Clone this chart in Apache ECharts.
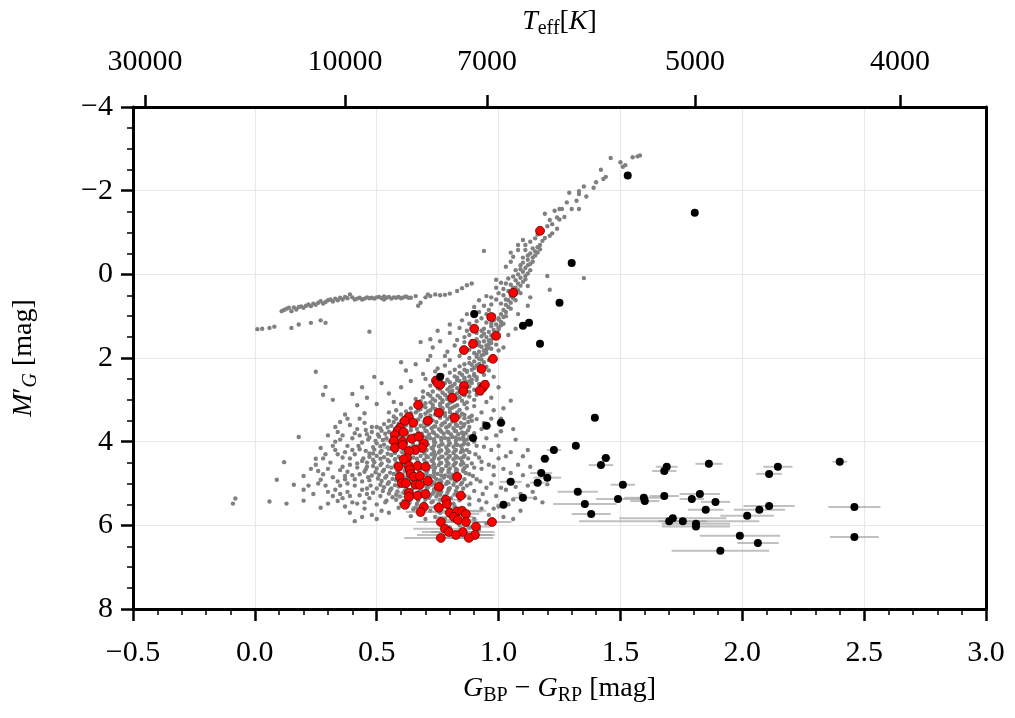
<!DOCTYPE html>
<html>
<head>
<meta charset="utf-8">
<script src="https://cdn.jsdelivr.net/npm/echarts/dist/echarts.min.js"></script>
<style>
  html, body { margin: 0; padding: 0; background: #fff; }
  #cmd-fig { width: 1015px; height: 718px; }
</style>
</head>
<body>
<div id="cmd-fig"></div>
<script>
// Colour-magnitude diagram
// ========================

// top axis: Teff ticks placed at their BP-RP colour
const teff_pos = [-0.451, 0.37, 0.953, 1.806, 2.647]
const teff_labels = ['30000', '10000', '7000', '5000', '4000']

// field stars (grey)
const hb_pts = [
  [0.01,1.31],[0.03,1.30],[0.06,1.28],[0.08,1.25],[0.11,0.88],[0.12,0.85],[0.13,0.82],[0.14,0.80],[0.15,0.88],[0.16,0.79],
  [0.17,0.84],[0.18,0.78],[0.19,0.77],[0.20,0.80],[0.21,0.75],[0.22,0.72],[0.23,0.76],[0.24,0.70],[0.25,0.73],[0.26,0.68],
  [0.27,0.64],[0.28,0.70],[0.29,0.66],[0.30,0.62],[0.31,0.60],[0.32,0.65],[0.33,0.58],[0.34,0.62],[0.35,0.56],[0.36,0.60],
  [0.37,0.54],[0.38,0.57],[0.39,0.48],[0.40,0.55],[0.41,0.60],[0.42,0.58],[0.43,0.56],[0.44,0.60],[0.45,0.58],[0.46,0.55],
  [0.47,0.57],[0.48,0.56],[0.49,0.58],[0.50,0.55],[0.51,0.54],[0.52,0.57],[0.53,0.53],[0.54,0.56],[0.55,0.54],[0.56,0.58],
  [0.57,0.55],[0.58,0.56],[0.59,0.54],[0.60,0.57],[0.61,0.55],[0.62,0.53],[0.63,0.56],[0.64,0.56],[0.66,0.52],[0.67,0.75],
  [0.68,0.68],[0.70,0.55],[0.71,0.48],[0.72,0.52],[0.74,0.48],[0.76,0.50],[0.78,0.49],[0.80,0.46],[0.83,0.40],[0.85,0.33],
  [0.87,0.26],[0.89,0.22],[0.23,1.16],[0.29,1.16],[0.15,1.28],[0.47,1.37],[0.72,1.55],[0.18,1.20],[0.27,1.10],[0.53,0.60],
]
const rgb_pts = [
  [1.58,-2.84],[1.57,-2.82],[1.55,-2.80],[1.46,-2.78],[1.51,-2.57],[1.52,-2.61],[1.44,-2.33],[1.43,-2.28],[1.40,-2.20],[1.39,-2.07],
  [1.36,-1.86],[1.33,-1.92],[1.33,-1.99],[1.32,-1.76],[1.33,-1.56],[1.30,-1.56],[1.26,-1.56],[1.25,-1.56],[1.27,-1.37],[1.25,-1.31],
  [1.24,-1.36],[1.22,-1.20],[1.24,-1.09],[1.22,-0.98],[1.21,-0.92],[1.19,-0.87],[1.18,-0.80],[1.17,-0.70],[1.16,-0.65],[1.14,-0.62],
  [1.17,-0.60],[1.15,-0.55],[1.13,-0.50],[1.15,-0.45],[1.10,-0.82],[1.08,-0.70],[1.06,-0.42],[1.05,-0.30],[1.03,-0.18],[1.10,-0.40],
  [1.12,-0.35],[1.14,-0.30],[1.12,-0.22],[1.11,-0.15],[1.13,-0.10],[1.10,-0.06],[1.12,-0.02],[1.11,0.04],[1.09,0.08],[1.11,0.12],
  [1.10,0.18],[1.08,0.22],[1.09,0.27],[1.07,0.32],[1.08,0.38],[1.06,0.42],[1.07,0.47],[1.05,0.52],[1.06,0.57],[1.04,0.62],
  [1.05,0.68],[1.03,0.73],[1.04,0.78],[1.02,0.85],[1.03,0.90],[1.01,0.95],[1.02,1.02],[1.00,1.08],[1.01,1.14],[0.99,1.20],
  [1.00,1.27],[0.98,1.33],[0.99,1.40],[0.97,1.46],[0.98,1.52],[0.96,1.58],[0.97,1.64],[0.95,1.70],[0.96,1.76],[0.94,1.82],
  [0.95,1.88],[0.93,1.94],[0.99,0.13],[1.03,0.22],[0.99,0.32],[1.06,0.32],[0.95,0.52],[0.97,0.55],[0.99,0.60],[0.94,0.75],
  [0.96,0.85],[0.92,0.90],[0.98,0.98],[0.93,1.05],[0.95,1.15],[0.90,1.25],[0.93,1.35],[0.88,1.45],[0.91,1.55],[0.86,1.62],
  [0.89,1.72],[0.83,1.57],[0.85,1.85],[0.91,1.92],[1.20,0.04],[1.21,0.37],[1.35,0.09],[0.94,-0.56],[1.08,0.95],[1.07,1.30],
  [1.04,1.45],[1.12,0.75],[1.02,1.75],[1.13,0.55],[0.99,1.68],[1.00,1.82],[0.87,0.95],[0.90,1.00],[0.85,1.10],[0.88,1.18],
  [0.91,1.12],[0.84,1.28],[0.87,1.35],[0.80,1.40],[0.86,1.50],[0.82,1.70],[0.79,1.85],[0.84,1.95],[0.88,1.80],[0.76,1.60],
  [0.73,1.75],[0.92,1.62],[0.93,1.48],[0.94,1.30],[0.96,1.05],[0.97,0.72],[0.92,0.62],[0.90,0.78],[1.00,0.45],[1.02,0.35],
  [1.01,0.20],[1.04,0.10],[1.06,0.05],[1.07,-0.10],[1.09,-0.22],[1.05,-0.52],[1.08,-0.58],[1.11,-0.70],[1.13,-0.78],[1.15,-0.86],
  [1.16,-0.95],[1.18,-1.05],[1.20,-1.15],[1.21,-1.30],[1.19,-1.45],[1.23,-1.52],[1.28,-1.72],[1.29,-1.95],[1.35,-2.10],[1.42,-2.50],
  [1.50,-2.68],[1.12,0.28],[1.09,0.45],[1.07,0.62],[1.05,0.82],[1.03,1.00],[1.01,1.22],[0.99,1.50],[0.97,1.78],[1.13,-0.25],
  [1.00,1.05],[0.98,1.10],[1.02,1.18],[0.97,1.24],[1.00,1.32],[0.96,1.38],[0.98,1.44],[0.95,1.50],[0.97,1.56],[0.94,1.60],
  [0.96,1.67],[0.93,1.73],[0.95,1.79],[0.92,1.85],[0.94,1.91],[0.91,1.97],[0.93,2.04],[0.89,2.16],[0.92,2.14],[0.95,2.21],
  [0.90,2.24],[0.88,2.00],[0.90,1.88],[0.92,1.70],[0.89,1.60],[0.94,1.42],[0.91,1.40],[0.97,1.18],[0.95,0.95],[1.03,0.60],
  [1.01,0.70],[1.02,0.50],[1.04,0.40],[1.05,0.25],[1.07,0.14],[1.08,0.00],[1.09,-0.12],[1.10,-0.28],[1.12,-0.45],[1.14,-0.40],
  [1.16,-0.52],[1.11,-0.58],[0.78,1.95],[0.71,2.05],[0.66,2.15],[0.82,2.28],[0.74,2.32],[0.60,2.10],[0.68,1.62],[0.80,1.20],
  [0.75,1.35],[0.70,2.50],
]
const sgb_pts = [
  [0.92,2.02],[0.90,2.08],[0.94,2.10],[0.88,2.12],[0.91,2.18],[0.93,2.22],[0.86,2.15],[0.80,2.05],[0.84,2.20],[0.96,2.05],
  [0.78,2.18],[0.72,1.95],[0.75,2.25],[0.89,2.28],[0.92,2.30],[0.87,2.33],[0.90,2.38],[0.85,2.40],[0.88,2.44],[0.91,2.46],
  [0.83,2.47],[0.86,2.50],[0.80,2.35],[0.94,2.40],[0.96,2.30],[0.77,2.42],[0.74,2.48],[0.69,2.38],[0.84,2.55],[0.87,2.57],
  [0.89,2.60],[0.82,2.62],[0.85,2.65],[0.88,2.68],[0.80,2.70],[0.83,2.72],[0.86,2.74],[0.90,2.76],[0.78,2.60],[0.76,2.75],
  [0.92,2.62],[0.95,2.58],[0.72,2.66],[0.69,2.80],[0.81,2.78],[0.93,2.70],[0.80,2.82],[0.83,2.85],[0.86,2.86],[0.78,2.88],
  [0.81,2.92],[0.84,2.94],[0.88,2.92],[0.76,2.95],[0.79,2.98],[0.82,3.00],[0.85,3.02],[0.74,3.02],[0.77,3.05],[0.80,3.07],
  [0.90,3.00],[0.72,2.90],[0.70,3.08],[0.66,2.98],[0.93,2.85],[0.87,3.06],[0.95,3.05],[0.73,3.12],[0.76,3.14],[0.79,3.15],
  [0.82,3.16],[0.70,3.18],[0.74,3.22],[0.77,3.24],[0.80,3.22],[0.84,3.24],[0.67,3.25],[0.71,3.28],[0.75,3.30],[0.78,3.32],
  [0.87,3.20],[0.64,3.32],[0.68,3.36],[0.72,3.38],[0.81,3.35],[0.85,3.33],[0.62,3.40],[0.90,3.15],[0.93,3.30],[0.58,3.25],
  [0.60,3.10],[0.55,3.30],[0.49,2.45],[0.52,2.60],[0.55,2.85],[0.46,2.95],[0.60,2.70],[0.64,2.55],[0.40,2.86],[0.42,3.13],
  [0.45,3.32],[0.50,3.10],[0.35,3.53],[0.37,3.35],[0.29,2.69],[0.28,2.88],[0.32,3.00],[0.25,2.33],[0.62,2.30],[0.57,3.05],
  [0.44,2.70],[0.98,2.45],[1.00,2.70],[0.97,2.95],[1.02,3.20],[1.05,3.02],[0.98,3.25],[0.86,2.28],[0.89,2.52],[0.91,2.88],
  [0.87,2.31],[0.84,2.36],[0.90,2.42],[0.82,2.44],[0.86,2.47],[0.79,2.52],[0.83,2.53],[0.88,2.56],[0.91,2.52],[0.80,2.58],
  [0.85,2.61],[0.77,2.66],[0.81,2.67],[0.87,2.70],[0.75,2.72],[0.79,2.75],[0.84,2.78],[0.88,2.81],[0.73,2.80],[0.77,2.83],
  [0.81,2.86],[0.86,2.89],[0.71,2.86],[0.75,2.90],[0.79,2.93],[0.83,2.97],[0.69,2.94],[0.73,2.98],[0.77,3.01],[0.81,3.04],
  [0.86,3.10],[0.68,3.03],[0.72,3.06],[0.76,3.09],[0.79,3.12],[0.83,3.13],[0.66,3.12],[0.69,3.15],[0.73,3.18],[0.77,3.20],
  [0.81,3.19],[0.64,3.20],[0.68,3.22],[0.72,3.25],[0.76,3.27],[0.80,3.29],[0.62,3.28],[0.66,3.30],[0.70,3.33],[0.74,3.35],
  [0.78,3.38],[0.60,3.35],[0.64,3.38],[0.68,3.40],[0.72,3.42],[0.76,3.41],[0.80,3.41],[0.84,3.40],[0.88,3.42],[0.57,3.40],
  [0.62,3.43],[0.83,3.30],[0.86,3.36],[0.89,3.38],[0.91,3.46],
]
const core_pts = [
  [0.58,3.45],[0.61,3.48],[0.64,3.44],[0.67,3.47],[0.70,3.45],[0.73,3.49],[0.76,3.43],[0.79,3.46],[0.82,3.48],[0.86,3.44],[0.55,3.50],[0.89,3.50],
  [0.53,3.58],[0.56,3.62],[0.59,3.57],[0.62,3.61],[0.65,3.58],[0.68,3.62],[0.71,3.59],[0.74,3.63],[0.77,3.57],[0.80,3.60],[0.83,3.62],[0.86,3.58],[0.50,3.65],
  [0.52,3.74],[0.55,3.77],[0.58,3.72],[0.61,3.76],[0.64,3.73],[0.67,3.78],[0.70,3.74],[0.73,3.77],[0.76,3.72],[0.79,3.76],[0.82,3.74],[0.85,3.78],[0.48,3.77],
  [0.51,3.88],[0.54,3.92],[0.57,3.87],[0.60,3.91],[0.63,3.89],[0.66,3.93],[0.69,3.88],[0.72,3.92],[0.75,3.87],[0.78,3.91],[0.81,3.89],[0.84,3.93],[0.47,3.90],
  [0.50,4.04],[0.53,4.07],[0.56,4.02],[0.59,4.06],[0.62,4.03],[0.65,4.08],[0.68,4.04],[0.71,4.07],[0.74,4.02],[0.77,4.06],[0.80,4.04],[0.83,4.08],[0.86,4.03],
  [0.49,4.19],[0.52,4.22],[0.55,4.17],[0.58,4.21],[0.61,4.18],[0.64,4.23],[0.67,4.19],[0.70,4.22],[0.73,4.17],[0.76,4.21],[0.79,4.19],[0.82,4.23],[0.85,4.18],
  [0.50,4.34],[0.53,4.37],[0.56,4.32],[0.59,4.36],[0.62,4.33],[0.65,4.38],[0.68,4.34],[0.71,4.37],[0.74,4.32],[0.77,4.36],[0.80,4.34],[0.83,4.38],[0.86,4.33],[0.47,4.36],
  [0.49,4.49],[0.52,4.52],[0.55,4.47],[0.58,4.51],[0.61,4.48],[0.64,4.53],[0.67,4.49],[0.70,4.52],[0.73,4.47],[0.76,4.51],[0.79,4.49],[0.82,4.53],[0.85,4.48],[0.46,4.50],
  [0.50,4.64],[0.53,4.67],[0.56,4.62],[0.59,4.66],[0.62,4.63],[0.65,4.68],[0.68,4.64],[0.71,4.67],[0.74,4.62],[0.77,4.66],[0.80,4.64],[0.83,4.68],[0.86,4.63],
  [0.51,4.79],[0.54,4.82],[0.57,4.77],[0.60,4.81],[0.63,4.78],[0.66,4.83],[0.69,4.79],[0.72,4.82],[0.75,4.77],[0.78,4.81],[0.81,4.79],[0.84,4.83],[0.48,4.81],
  [0.52,4.94],[0.55,4.97],[0.58,4.92],[0.61,4.96],[0.64,4.93],[0.67,4.98],[0.70,4.94],[0.73,4.97],[0.76,4.92],[0.79,4.96],[0.82,4.94],[0.85,4.98],
  [0.53,5.09],[0.56,5.12],[0.59,5.07],[0.62,5.11],[0.65,5.08],[0.68,5.13],[0.71,5.09],[0.74,5.12],[0.77,5.07],[0.80,5.11],[0.83,5.09],[0.50,5.12],
  [0.55,5.24],[0.58,5.27],[0.61,5.22],[0.64,5.26],[0.67,5.23],[0.70,5.28],[0.73,5.24],[0.76,5.27],[0.79,5.22],[0.82,5.26],
  [0.58,5.39],[0.61,5.42],[0.64,5.37],[0.67,5.41],[0.70,5.38],[0.73,5.43],[0.76,5.39],[0.79,5.42],[0.54,5.41],
  [0.62,5.54],[0.66,5.57],[0.70,5.52],[0.74,5.56],[0.78,5.53],[0.59,5.58],[0.82,5.55],
  [0.57,3.53],[0.60,3.51],[0.635,3.54],[0.66,3.52],[0.695,3.55],[0.72,3.51],[0.745,3.53],[0.78,3.54],[0.81,3.52],[0.845,3.55],[0.875,3.53],
  [0.515,3.68],[0.545,3.66],[0.575,3.69],[0.605,3.67],[0.64,3.65],[0.665,3.69],[0.695,3.66],[0.725,3.68],[0.755,3.70],[0.785,3.66],[0.815,3.68],[0.845,3.67],
  [0.505,3.83],[0.535,3.81],[0.565,3.84],[0.595,3.82],[0.625,3.80],[0.655,3.84],[0.685,3.81],[0.715,3.83],[0.745,3.85],[0.775,3.81],[0.805,3.83],[0.835,3.82],[0.865,3.80],
  [0.495,3.98],[0.525,3.96],[0.555,3.99],[0.585,3.97],[0.615,3.95],[0.645,3.99],[0.675,3.96],[0.705,3.98],[0.735,4.00],[0.765,3.96],[0.795,3.98],[0.825,3.97],[0.855,3.95],
  [0.485,4.13],[0.515,4.11],[0.545,4.14],[0.575,4.12],[0.605,4.10],[0.635,4.14],[0.665,4.11],[0.695,4.13],[0.725,4.15],[0.755,4.11],[0.785,4.13],[0.815,4.12],[0.845,4.10],
  [0.485,4.28],[0.515,4.26],[0.545,4.29],[0.575,4.27],[0.605,4.25],[0.635,4.29],[0.665,4.26],[0.695,4.28],[0.725,4.30],[0.755,4.26],[0.785,4.28],[0.815,4.27],[0.845,4.25],
  [0.485,4.43],[0.515,4.41],[0.545,4.44],[0.575,4.42],[0.605,4.40],[0.635,4.44],[0.665,4.41],[0.695,4.43],[0.725,4.45],[0.755,4.41],[0.785,4.43],[0.815,4.42],[0.845,4.40],
  [0.485,4.58],[0.515,4.56],[0.545,4.59],[0.575,4.57],[0.605,4.55],[0.635,4.59],[0.665,4.56],[0.695,4.58],[0.725,4.60],[0.755,4.56],[0.785,4.58],[0.815,4.57],[0.845,4.55],
  [0.495,4.73],[0.525,4.71],[0.555,4.74],[0.585,4.72],[0.615,4.70],[0.645,4.74],[0.675,4.71],[0.705,4.73],[0.735,4.75],[0.765,4.71],[0.795,4.73],[0.825,4.72],[0.855,4.70],
  [0.505,4.88],[0.535,4.86],[0.565,4.89],[0.595,4.87],[0.625,4.85],[0.655,4.89],[0.685,4.86],[0.715,4.88],[0.745,4.90],[0.775,4.86],[0.805,4.88],[0.835,4.87],
  [0.515,5.03],[0.545,5.01],[0.575,5.04],[0.605,5.02],[0.635,5.00],[0.665,5.04],[0.695,5.01],[0.725,5.03],[0.755,5.05],[0.785,5.01],[0.815,5.03],[0.845,5.02],
  [0.525,5.18],[0.555,5.16],[0.585,5.19],[0.615,5.17],[0.645,5.15],[0.675,5.19],[0.705,5.16],[0.735,5.18],[0.765,5.20],[0.795,5.16],[0.825,5.18],
  [0.565,5.33],[0.595,5.31],[0.625,5.34],[0.655,5.32],[0.685,5.30],[0.715,5.34],[0.745,5.31],[0.775,5.33],[0.805,5.35],
  [0.60,5.48],[0.635,5.46],[0.665,5.49],[0.695,5.47],[0.725,5.45],[0.755,5.49],[0.785,5.46],[0.815,5.48],
  [0.455,3.72],[0.465,3.95],[0.455,4.22],[0.445,4.40],[0.455,4.66],[0.465,4.85],[0.475,5.05],[0.485,5.22],[0.515,5.30],[0.535,5.45],
  [0.875,3.73],[0.88,3.88],[0.875,4.06],[0.87,4.20],[0.875,4.40],[0.87,4.58],[0.865,4.75],[0.86,4.90],[0.855,5.12],[0.85,5.22],
  [0.84,5.40],[0.90,4.00],[0.905,4.30],[0.90,4.62],[0.895,4.82],[0.885,5.00],[0.88,5.35],[0.43,3.85],[0.425,4.10],[0.42,4.52],
  [0.43,4.78],[0.44,5.15],[0.41,4.90],[0.40,4.20],[0.39,4.40],[0.41,3.80],[0.93,3.70],[0.94,4.12],[0.93,4.48],[0.925,4.95],
  [0.935,5.25],[0.96,3.62],[0.99,3.85],[0.98,4.60],[0.97,5.00],[1.01,5.10],[0.95,5.45],
  [0.705,3.60],[0.735,3.64],[0.765,3.61],[0.795,3.63],[0.825,3.59],[0.855,3.63],[0.705,3.75],[0.735,3.79],[0.765,3.76],[0.795,3.78],
  [0.825,3.75],[0.855,3.80],[0.705,3.90],[0.735,3.94],[0.765,3.91],[0.795,3.93],[0.825,3.90],[0.855,3.88],[0.705,4.05],[0.735,4.09],
  [0.765,4.06],[0.795,4.08],[0.825,4.05],[0.855,4.07],[0.705,4.20],[0.735,4.24],[0.765,4.21],[0.795,4.23],[0.825,4.20],[0.855,4.22],
  [0.705,4.35],[0.735,4.39],[0.765,4.36],[0.795,4.38],[0.825,4.35],[0.855,4.37],[0.705,4.50],[0.735,4.54],[0.765,4.51],[0.795,4.53],
  [0.825,4.50],[0.855,4.52],[0.705,4.65],[0.735,4.69],[0.765,4.66],[0.795,4.68],[0.825,4.65],[0.855,4.67],[0.705,4.80],[0.735,4.84],
  [0.765,4.81],[0.795,4.83],[0.825,4.80],[0.705,4.95],[0.735,4.99],[0.765,4.96],[0.795,4.98],[0.825,4.95],[0.705,5.10],[0.735,5.14],
  [0.765,5.11],[0.795,5.13],[0.72,5.28],[0.75,5.24],[0.78,5.30],
]
const halo_pts = [
  [0.45,3.55],[0.42,3.70],[0.46,3.82],[0.40,3.92],[0.44,4.02],[0.38,4.10],[0.43,4.18],[0.41,4.30],[0.36,4.38],[0.44,4.46],
  [0.39,4.55],[0.42,4.62],[0.35,4.68],[0.45,4.72],[0.40,4.80],[0.37,4.90],[0.44,4.95],[0.41,5.05],[0.46,5.12],[0.38,5.20],
  [0.43,5.28],[0.47,5.35],[0.40,5.45],[0.50,5.50],[0.45,5.60],[0.33,4.20],[0.31,4.50],[0.28,4.78],[0.34,4.95],[0.30,5.20],
  [0.35,5.05],[0.32,4.85],[0.27,4.91],[0.30,3.85],[0.34,3.77],[0.33,4.00],[0.35,3.95],[0.41,5.90],[0.48,5.75],[0.52,5.65],
  [0.36,5.35],[0.42,5.48],[0.30,5.48],[0.25,4.41],[0.20,4.82],[0.20,5.15],[0.20,5.41],[0.16,5.03],[0.09,4.91],[0.12,4.49],
  [0.18,3.89],[0.06,5.43],[0.13,5.48],[0.27,5.58],[-0.08,5.36],[-0.09,5.48],[0.47,4.28],[0.46,4.60],[0.47,4.92],[0.46,5.25],
  [0.48,3.65],[0.38,4.72],[0.37,4.25],[0.23,4.65],[0.26,5.00],[0.29,4.30],[0.32,5.30],[0.37,5.55],[0.43,3.45],[0.39,3.60],
  [0.88,3.65],[0.90,3.80],[0.87,3.95],[0.91,4.10],[0.88,4.25],[0.92,4.38],[0.89,4.52],[0.93,4.65],[0.88,4.78],[0.91,4.90],
  [0.87,5.05],[0.90,5.18],[0.86,5.30],[0.92,5.40],[0.95,3.92],[0.97,4.20],[0.96,4.55],[0.98,4.80],[0.95,5.10],[1.00,4.40],
  [1.02,4.65],[1.04,4.95],[0.99,5.30],[1.01,3.75],[1.05,4.25],[0.94,3.55],[0.97,3.45],[1.03,5.15],[1.08,4.55],[0.93,5.60],
  [0.96,5.75],[0.90,5.85],[1.00,5.55],[0.85,5.65],[0.88,5.50],[1.06,5.38],[1.10,4.80],[1.12,5.05],[1.15,5.35],[1.17,4.97],
  [1.20,5.02],[1.07,3.95],[1.12,4.20],[0.72,5.65],[0.76,5.70],[0.80,5.62],[0.68,5.70],[0.74,5.80],[0.78,5.85],[0.82,5.78],
  [0.86,5.88],[0.84,6.00],[0.88,6.05],[0.92,6.10],[0.80,6.05],[0.76,5.95],[0.70,5.85],[0.65,5.62],[0.64,5.78],[0.89,3.88],
  [0.34,4.30],[0.36,4.60],[0.30,4.65],[0.28,4.40],[0.26,4.70],[0.33,5.15],[0.38,5.00],[0.35,5.25],[0.29,5.05],[0.24,5.25],
  [0.22,5.05],[0.39,5.30],[0.45,5.45],[0.33,3.65],[0.36,3.85],[0.38,3.45],[0.32,4.10],[0.27,4.15],[0.25,4.55],[0.37,4.82],
  [0.34,5.42],[0.39,5.70],[0.44,5.80],[0.50,5.85],[0.55,5.70],[1.00,4.10],[1.03,4.35],[1.05,4.75],[1.07,5.08],[1.09,5.25],
  [1.04,5.50],[0.98,5.60],[1.02,5.80],[0.95,5.95],[1.10,4.35],[1.13,4.60],[1.14,5.20],[1.18,5.45],[1.09,5.65],[1.06,3.70],
  [1.01,3.45],[0.97,5.90],[1.06,5.85],
]

// sample stars (red) and their colour errors
const red_pts = [
  [1.17,-1.04],[1.06,0.44],[0.97,1.02],[0.90,1.30],[0.99,1.47],[0.895,1.66],[0.858,1.81],[0.977,2.02],[0.93,2.26],[0.858,2.67],
  [0.855,2.79],[0.935,2.71],[0.944,2.64],[0.923,2.78],[0.81,2.95],[0.743,2.54],[0.76,2.64],[0.67,3.12],[0.755,3.31],[0.82,3.43],
  [0.71,3.50],[0.632,3.41],[0.615,3.50],[0.595,3.67],[0.587,3.74],[0.574,3.84],[0.61,3.77],[0.57,3.98],[0.607,4.00],[0.574,4.15],
  [0.607,4.08],[0.644,3.93],[0.673,3.88],[0.693,4.05],[0.685,4.15],[0.657,4.20],[0.632,4.23],[0.624,4.39],[0.611,4.42],[0.59,4.60],
  [0.632,4.58],[0.668,4.58],[0.70,4.60],[0.636,4.67],[0.64,4.77],[0.595,4.84],[0.652,4.84],[0.677,4.82],[0.71,4.94],[0.603,4.99],
  [0.62,4.99],[0.66,5.03],[0.677,5.03],[0.83,4.84],[0.632,5.22],[0.668,5.29],[0.70,5.25],[0.755,5.08],[0.632,5.32],[0.845,5.29],
  [0.616,5.51],[0.693,5.56],[0.68,5.68],[0.755,5.58],[0.784,5.39],[0.788,5.49],[0.80,5.70],[0.83,5.67],[0.85,5.65],[0.817,5.80],
  [0.833,5.87],[0.866,5.73],[0.866,5.92],[0.763,5.92],[0.973,5.92],[0.907,6.03],[0.78,6.08],[0.796,6.16],[0.853,6.16],[0.825,6.23],
  [0.903,6.23],[0.878,6.30],[0.763,6.30],[0.65,3.55],[0.75,2.60],
]
const red_err = [
  0, 0, 0, 0, 0, 0, 0, 0, 0, 0,
  0, 0, 0, 0, 0, 0, 0, 0, 0, 0,
  0.03, 0, 0, 0, 0, 0, 0, 0.04, 0, 0.05,
  0, 0, 0, 0, 0, 0, 0.04, 0, 0, 0.05,
  0, 0, 0.04, 0, 0.06, 0, 0, 0, 0.05, 0,
  0, 0, 0.04, 0, 0.06, 0.05, 0, 0, 0.05, 0.04,
  0, 0.05, 0.06, 0.07, 0.05, 0, 0.06, 0.1, 0.1, 0.08,
  0.08, 0.055, 0.1, 0.1, 0.08, 0.06, 0.13, 0.11, 0.13, 0.16,
  0.07, 0.1, 0.15, 0, 0,
]

// comparison stars (black) and their colour errors
const black_pts = [
  [1.53,-2.36],[1.805,-1.47],[1.30,-0.27],[1.25,0.68],[0.90,0.95],[1.10,1.23],[1.125,1.16],[1.17,1.66],[0.76,2.45],[0.95,3.62],
  [1.01,3.55],[0.895,3.91],[1.395,3.43],[1.227,4.20],[1.317,4.10],[1.19,4.41],[1.175,4.75],[1.20,4.86],[1.16,4.98],[1.05,4.96],
  [1.10,5.34],[1.02,5.51],[1.44,4.39],[1.42,4.56],[1.69,4.60],[1.68,4.70],[1.863,4.53],[2.146,4.60],[2.11,4.77],[2.40,4.48],
  [1.51,5.03],[1.325,5.20],[1.354,5.49],[1.38,5.73],[1.49,5.37],[1.596,5.34],[1.60,5.42],[1.68,5.30],[1.793,5.37],[1.826,5.25],
  [1.89,5.44],[1.85,5.63],[2.11,5.54],[2.07,5.63],[2.02,5.77],[1.715,5.83],[1.70,5.90],[1.756,5.90],[1.81,5.96],[1.81,6.03],
  [1.99,6.25],[2.064,6.42],[1.91,6.61],[2.46,5.56],[2.46,6.28],
]
const black_err = [
  0, 0, 0, 0.01, 0, 0.01, 0.01, 0.01, 0.01, 0.02,
  0.02, 0.02, 0.015, 0.03, 0.01, 0.02, 0.045, 0.057, 0.03, 0.045,
  0.04, 0.03, 0.02, 0.05, 0.045, 0.05, 0.055, 0.06, 0.053, 0.03,
  0.05, 0.083, 0.13, 0.08, 0.09, 0.08, 0.06, 0.06, 0.05, 0.083,
  0.06, 0.073, 0.105, 0.105, 0.11, 0.22, 0.37, 0.1, 0.14, 0.14,
  0.165, 0.085, 0.2, 0.107, 0.1,
]

const font = 'Liberation Serif'
const gray_pts = hb_pts.concat(rgb_pts, sgb_pts, core_pts, halo_pts)

const err_data = []
red_pts.forEach((p, i) => {
  if (red_err[i] > 0) err_data.push([p[0], p[1], red_err[i]])
})
black_pts.forEach((p, i) => {
  if (black_err[i] > 0) err_data.push([p[0], p[1], black_err[i]])
})

function minusSign(s) {
  return String(s).replace('-', '\u2212')
}

const rich_name = {
  r: { fontFamily: font, fontSize: 28, color: '#000', lineHeight: 34 },
  i: { fontFamily: font, fontSize: 28, fontStyle: 'italic', color: '#000', lineHeight: 34 },
  s: { fontFamily: font, fontSize: 20, color: '#000', lineHeight: 20, verticalAlign: 'bottom', padding: [6, 0, 0, 0] },
  si: { fontFamily: font, fontSize: 20, fontStyle: 'italic', color: '#000', lineHeight: 20, verticalAlign: 'bottom', padding: [6, 0, 0, 0] },
}

const tick_label = { fontFamily: font, fontSize: 30, color: '#000' }

const option = {
  animation: false,
  backgroundColor: '#fff',
  grid: { left: 133, right: 29, top: 107, bottom: 109 },
  xAxis: [{
    type: 'value',
    position: 'bottom',
    min: -0.5,
    max: 3,
    interval: 0.5,
    axisLine: { onZero: false, lineStyle: { color: '#000', width: 3 } },
    axisTick: { length: 12, lineStyle: { color: '#000', width: 2.5 } },
    minorTick: { show: true, splitNumber: 5, length: 6, lineStyle: { color: '#000', width: 1.5 } },
    splitLine: { show: true, lineStyle: { color: '#e8e8e8', width: 1.2 } },
    axisLabel: Object.assign({ margin: 29, formatter: v => minusSign(v.toFixed(1)) }, tick_label),
    name: '{i|G}{s|BP}{r| \u2212 }{i|G}{s|RP}{r| [mag]}',
    nameLocation: 'middle',
    nameGap: 63,
    nameTextStyle: { rich: rich_name },
  }, {
    type: 'value',
    position: 'top',
    min: -0.5,
    max: 3,
    axisLine: { onZero: false, lineStyle: { color: '#000', width: 3 } },
    axisTick: { length: 12, customValues: teff_pos, lineStyle: { color: '#000', width: 2.5 } },
    splitLine: { show: false },
    axisLabel: Object.assign({
      margin: 30,
      customValues: teff_pos,
      formatter: v => {
        let best = 0
        teff_pos.forEach((p, i) => { if (Math.abs(p - v) < Math.abs(teff_pos[best] - v)) best = i })
        return teff_labels[best]
      },
    }, tick_label),
    name: '{i|T}{s|eff}{r|[}{i|K}{r|]}',
    nameLocation: 'middle',
    nameGap: 68,
    nameTextStyle: { rich: rich_name },
  }],
  yAxis: [{
    type: 'value',
    inverse: true,
    min: -4,
    max: 8,
    interval: 2,
    axisLine: { onZero: false, lineStyle: { color: '#000', width: 3 } },
    axisTick: { length: 12, lineStyle: { color: '#000', width: 2.5 } },
    minorTick: { show: true, splitNumber: 4, length: 6, lineStyle: { color: '#000', width: 1.5 } },
    splitLine: { show: true, lineStyle: { color: '#e8e8e8', width: 1.2 } },
    axisLabel: Object.assign({ margin: 20, formatter: v => minusSign(v) }, tick_label),
    name: "{i|M}{r|\u2032}{si|G}{r| [mag]}",
    nameLocation: 'middle',
    nameRotate: 90,
    nameGap: 92,
    nameTextStyle: { rich: rich_name },
  }, {
    type: 'value',
    position: 'right',
    inverse: true,
    min: -4,
    max: 8,
    axisLine: { show: true, onZero: false, lineStyle: { color: '#000', width: 3 } },
    axisTick: { show: false },
    axisLabel: { show: false },
    splitLine: { show: false },
  }],
  series: [{
    type: 'scatter',
    name: 'field',
    data: gray_pts,
    symbolSize: 4.4,
    itemStyle: { color: '#808080', opacity: 1 },
    z: 2,
  }, {
    type: 'custom',
    name: 'errors',
    data: err_data,
    encode: { x: 0, y: 1 },
    z: 3,
    renderItem: (params, api) => {
      const p1 = api.coord([api.value(0) - api.value(2), api.value(1)])
      const p2 = api.coord([api.value(0) + api.value(2), api.value(1)])
      return {
        type: 'line',
        shape: { x1: p1[0], y1: p1[1], x2: p2[0], y2: p2[1] },
        style: { stroke: 'rgba(150,150,150,0.6)', lineWidth: 2 },
      }
    },
  }, {
    type: 'scatter',
    name: 'sample',
    data: red_pts,
    symbolSize: 9,
    itemStyle: { color: '#ff0000', borderColor: '#4a0000', borderWidth: 0.7, opacity: 1 },
    z: 4,
  }, {
    type: 'scatter',
    name: 'comparison',
    data: black_pts,
    symbolSize: 8,
    itemStyle: { color: '#000', opacity: 1 },
    z: 5,
  }],
}

const cmdFig = echarts.init(document.getElementById('cmd-fig'))
cmdFig.setOption(option)
</script>
</body>
</html>
